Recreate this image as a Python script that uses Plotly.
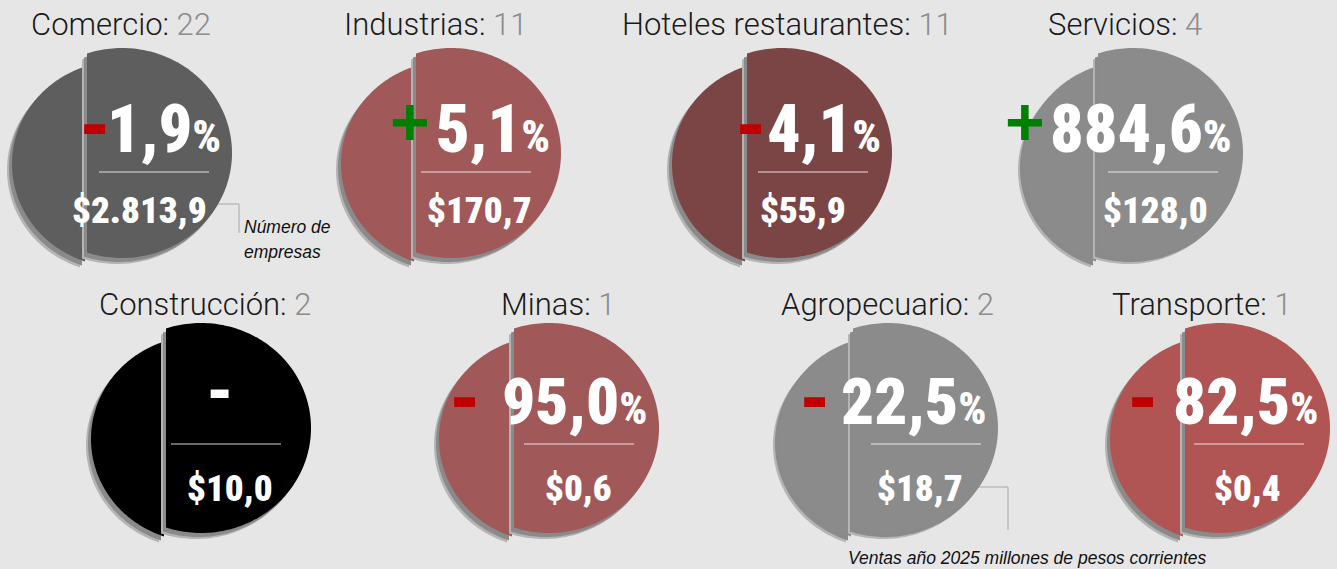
import numpy as np
import plotly.graph_objects as go

# ---------------- data ----------------
sectors = ["Comercio", "Industrias", "Hoteles restaurantes", "Servicios",
           "Construcción", "Minas", "Agropecuario", "Transporte"]
companies = [22, 11, 11, 4, 2, 1, 2, 1]
change_pct = [-1.9, 5.1, -4.1, 884.6, None, -95.0, -22.5, -82.5]
sales_2025 = [2813.9, 170.7, 55.9, 128.0, 10.0, 0.6, 18.7, 0.4]
fill_colors = ["#5e5e5e", "#a05858", "#7b4545", "#8b8b8b",
               "#000000", "#a05858", "#8b8b8b", "#b05454"]
note_companies = ["Número de", "empresas"]
note_sales = "Ventas año 2025 millones de pesos corrientes"

# ---------------- layout constants (pixels) ----------------
W, H = 1337, 569
BG = "#e6e6e6"
panel_row = [0, 0, 0, 0, 1, 1, 1, 1]
cut_x = [87, 416, 747, 1098, 166, 514, 853, 1185]
title_cx = [120.5, 435, 787.5, 1124.5, 204.5, 558, 887.5, 1201.5]
sign_cx = [94, 410, 750, 1024.5, 219.5, 464, 814, 1142]
value_cx = [139.5, 479, 802.5, 1155.5, 230, 578, 920, 1247]
sep_cx = [154, 476, 813, 1163, 226, 579, 926, 1249]
ROWS = [
    dict(title_base=35, cy=152, pct_base=152, sign_y=126.5, plus_y=120.5,
         sep_y=172, val_base=223, pct_size=66, pct_small=45),
    dict(title_base=315, cy=427, pct_base=424, sign_y=399.5, plus_y=393.5,
         sep_y=444, val_base=501, pct_size=65, pct_small=44),
]

TITLE_FONT = "Roboto, 'Liberation Sans', Arial, sans-serif"
NUM_FONT = "'Roboto Condensed', 'Open Sans', Roboto, sans-serif"
SIGN_FONT = "'Liberation Sans', Arial, sans-serif"
NOTE_FONT = "'Liberation Sans', Arial, sans-serif"


def fmt_es(v):
    s = f"{abs(v):,.1f}"
    return s.replace(",", "X").replace(".", ",").replace("X", ".")


def ellipse_piece(cx, cy, rx, ry, cut, side, dx=0.0, dy=0.0, n=160):
    c = np.clip((cut - cx) / rx, -1, 1)
    t0 = np.arccos(c)
    if side == "right":
        t = np.linspace(-t0, t0, n)
    else:
        t = np.linspace(t0, 2 * np.pi - t0, n)
    xs = cx + rx * np.cos(t) + dx
    ys = cy + ry * np.sin(t) + dy
    pts = " L ".join(f"{x:.2f},{y:.2f}" for x, y in zip(xs, ys))
    return "M " + pts + " Z"


shapes = []
annotations = []

conn_color = "#a8a8a8"
shapes.append(dict(type="path", xref="x", yref="y",
                   path="M 200,204 L 239,204 L 239,233",
                   line=dict(color=conn_color, width=1)))
shapes.append(dict(type="path", xref="x", yref="y",
                   path="M 975,487 L 1008,487 L 1008,530",
                   line=dict(color=conn_color, width=1)))

for i, name in enumerate(sectors):
    r = ROWS[panel_row[i]]
    X = cut_x[i]
    cy = r["cy"]
    col = fill_colors[i]
    lcx, lcy, lrx, lry, lcut = X + 33, cy + 12, 108, 103, X - 2
    rcx, rcy, rrx, rry, rcut = X + 35, cy + 1, 110, 105, X
    for (px, py, prx, pry, pcut, side) in [(lcx, lcy, lrx, lry, lcut, "left"),
                                           (rcx, rcy, rrx, rry, rcut, "right")]:
        shapes.append(dict(type="path", xref="x", yref="y", layer="above",
                           path=ellipse_piece(px, py, prx, pry, pcut, side, -5, 6),
                           fillcolor="#b4b4b4", line=dict(width=0)))
        shapes.append(dict(type="path", xref="x", yref="y", layer="above",
                           path=ellipse_piece(px, py, prx, pry, pcut, side, -3, 4),
                           fillcolor="#8a8a8a", line=dict(width=0)))
        shapes.append(dict(type="path", xref="x", yref="y", layer="above",
                           path=ellipse_piece(px, py, prx, pry, pcut, side),
                           fillcolor=col, line=dict(width=0)))
    shapes.append(dict(type="line", xref="x", yref="y",
                       x0=sep_cx[i] - 55, x1=sep_cx[i] + 55,
                       y0=r["sep_y"], y1=r["sep_y"],
                       line=dict(color="rgba(255,255,255,0.55)", width=1.5)))

    ts = 31
    annotations.append(dict(
        x=title_cx[i], y=r["title_base"] - 0.342 * ts, xref="x", yref="y",
        text=f"<span style='color:#1a1a1a'>{name}:</span> "
             f"<span style='color:#8c8c8c'>{companies[i]}</span>",
        showarrow=False, xanchor="center", yanchor="middle",
        font=dict(family=TITLE_FONT, size=ts, weight=300)))

    v = change_pct[i]
    if v is None:
        annotations.append(dict(
            x=sign_cx[i], y=392 - 4, xref="x", yref="y", text="-",
            showarrow=False, xanchor="center", yanchor="middle",
            font=dict(family=SIGN_FONT, size=70, color="white", weight="bold")))
    else:
        ps = r["pct_size"]
        annotations.append(dict(
            x=X + 136, y=r["pct_base"] - 0.3415 * ps, xref="x", yref="y",
            text=f"{fmt_es(v)}<span style='font-size:{r['pct_small']}px'>%</span>",
            showarrow=False, xanchor="right", yanchor="middle",
            font=dict(family=NUM_FONT, size=ps, color="white", weight=900)))
        if v >= 0:
            annotations.append(dict(
                x=sign_cx[i], y=r["plus_y"], xref="x", yref="y", text="+",
                showarrow=False, xanchor="center", yanchor="middle",
                font=dict(family=SIGN_FONT, size=68, color="#008000", weight="bold")))
        else:
            annotations.append(dict(
                x=sign_cx[i], y=r["sign_y"] - 5, xref="x", yref="y", text="-",
                showarrow=False, xanchor="center", yanchor="middle",
                font=dict(family=SIGN_FONT, size=82, color="#c00000", weight="bold")))

    vs = 37
    annotations.append(dict(
        x=value_cx[i], y=r["val_base"] - 0.3415 * vs, xref="x", yref="y",
        text="$" + fmt_es(sales_2025[i]),
        showarrow=False, xanchor="center", yanchor="middle",
        font=dict(family=NUM_FONT, size=vs, color="white", weight=900)))

ns = 17.5
for k, (txt, base) in enumerate(zip(note_companies, [233, 258])):
    annotations.append(dict(
        x=242, y=base - 0.3465 * ns, xref="x", yref="y", text=txt,
        showarrow=False, xanchor="left", yanchor="middle",
        font=dict(family=NOTE_FONT, size=ns, color="#111111", style="italic")))
annotations.append(dict(
    x=1027.5, y=564 - 0.3465 * ns, xref="x", yref="y", text=note_sales,
    showarrow=False, xanchor="center", yanchor="middle",
    font=dict(family=NOTE_FONT, size=ns, color="#111111", style="italic")))

fig = go.Figure()
fig.update_layout(
    width=W, height=H,
    margin=dict(l=0, r=0, t=0, b=0, pad=0),
    paper_bgcolor=BG, plot_bgcolor=BG,
    showlegend=False,
    xaxis=dict(range=[0, W], visible=False, fixedrange=True),
    yaxis=dict(range=[H, 0], visible=False, fixedrange=True),
    shapes=shapes,
    annotations=annotations,
)

fig.write_html("out.html",
               config={"displayModeBar": False},
               post_script="document.body.style.margin='0px';"
                           "document.body.style.overflow='hidden';")
